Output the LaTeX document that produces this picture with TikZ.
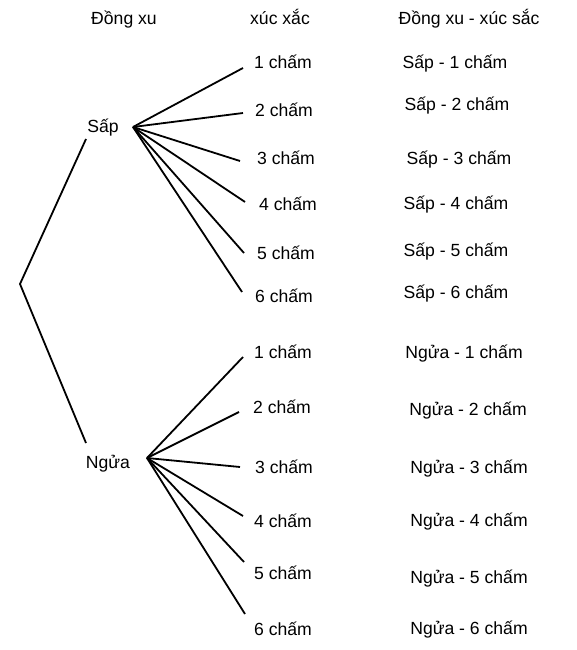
\documentclass[tikz,border=0pt]{standalone}
\usepackage{fontspec}
\setmainfont{Liberation Sans}
\usepackage{tikz}
\usetikzlibrary{positioning}

\begin{document}
\begin{tikzpicture}[
    x=1pt, y=-1pt,
    lbl/.style={inner sep=0pt, text height=12.6pt, text depth=0pt,
                font=\fontsize{17.6}{20}\selectfont},
    branch/.style={line width=1.8pt, black}
]
\useasboundingbox (0,0) rectangle (577,650);

% Headers
\node[lbl] (hcoin) at (124, 18) {Đồng xu};
\node[lbl] (hdice) at (280, 18) {xúc xắc};
\node[lbl] (hboth) at (469, 18) {Đồng xu - xúc sắc};

% Coin
\coordinate (root) at (20, 284);
\node[lbl] (sap) at (103, 126) {Sấp};
\node[lbl] (ngua) at (108, 462) {Ngửa};
\coordinate (sapin) at (86, 139);
\coordinate (nguain) at (86, 443);
\coordinate (sapout) at (133, 127);
\coordinate (nguaout) at (147, 458);

\draw[branch] (sapin) -- (root) -- (nguain);

% Dice after Sap
\node[lbl] (s1) at (283, 62) {1 chấm};
\node[lbl] (s2) at (284, 110) {2 chấm};
\node[lbl] (s3) at (286, 158) {3 chấm};
\node[lbl] (s4) at (288, 204) {4 chấm};
\node[lbl] (s5) at (286, 253) {5 chấm};
\node[lbl] (s6) at (284, 296) {6 chấm};

\coordinate (se1) at (243, 68);
\coordinate (se2) at (243, 113);
\coordinate (se3) at (240, 161);
\coordinate (se4) at (245, 202);
\coordinate (se5) at (244, 253);
\coordinate (se6) at (242, 292);

\foreach \i in {1,...,6}
    \draw[branch] (sapout) -- (se\i);

% Dice after Ngua
\node[lbl] (n1) at (283, 352) {1 chấm};
\node[lbl] (n2) at (282, 407) {2 chấm};
\node[lbl] (n3) at (284, 467) {3 chấm};
\node[lbl] (n4) at (283, 521) {4 chấm};
\node[lbl] (n5) at (283, 573) {5 chấm};
\node[lbl] (n6) at (283, 629) {6 chấm};

\coordinate (ne1) at (243, 357);
\coordinate (ne2) at (239, 412);
\coordinate (ne3) at (240, 467);
\coordinate (ne4) at (243, 516);
\coordinate (ne5) at (244, 562);
\coordinate (ne6) at (245, 614);

\foreach \i in {1,...,6}
    \draw[branch] (nguaout) -- (ne\i);

% Outcomes
\node[lbl] (o1) at (455, 62) {Sấp - 1 chấm};
\node[lbl] (o2) at (457, 104) {Sấp - 2 chấm};
\node[lbl] (o3) at (459, 158) {Sấp - 3 chấm};
\node[lbl] (o4) at (456, 203) {Sấp - 4 chấm};
\node[lbl] (o5) at (456, 250) {Sấp - 5 chấm};
\node[lbl] (o6) at (456, 292) {Sấp - 6 chấm};

\node[lbl] (o7) at (464, 352) {Ngửa - 1 chấm};
\node[lbl] (o8) at (468, 409) {Ngửa - 2 chấm};
\node[lbl] (o9) at (469, 467) {Ngửa - 3 chấm};
\node[lbl] (o10) at (469, 520) {Ngửa - 4 chấm};
\node[lbl] (o11) at (469, 577) {Ngửa - 5 chấm};
\node[lbl] (o12) at (469, 628) {Ngửa - 6 chấm};

\end{tikzpicture}
\end{document}
